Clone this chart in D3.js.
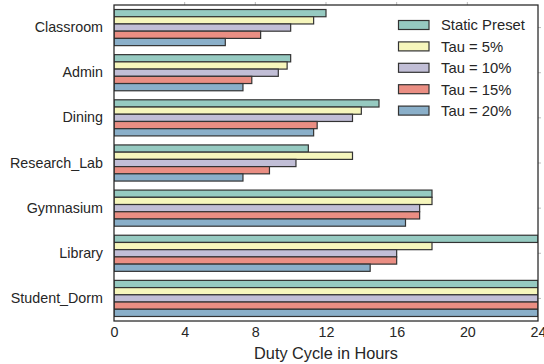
<!DOCTYPE html>
<html>
<head>
<meta charset="utf-8">
<script src="https://cdn.jsdelivr.net/npm/d3@7"></script>
<style>
  body { margin: 0; background: #fff; }
  svg { display: block; font-family: "Liberation Sans", Arial, Helvetica, sans-serif; }
</style>
</head>
<body>
<svg id="chart" width="544" height="364"></svg>
<script>
const categories = ["Classroom", "Admin", "Dining", "Research_Lab", "Gymnasium", "Library", "Student_Dorm"];
const seriesNames = ["Static Preset", "Tau = 5%", "Tau = 10%", "Tau = 15%", "Tau = 20%"];
const staticPreset = [12, 10, 15, 11, 18, 24, 24];
const tau5  = [11.3, 9.8, 14, 13.5, 18, 18, 24];
const tau10 = [10, 9.3, 13.5, 10.3, 17.3, 16, 24];
const tau15 = [8.3, 7.8, 11.5, 8.8, 17.3, 16, 24];
const tau20 = [6.3, 7.3, 11.3, 7.3, 16.5, 14.5, 24];
const xTicks = [0, 4, 8, 12, 16, 20, 24];
const colors = ["#96cac1", "#f6f6bc", "#c1bed6", "#ea8e83", "#8aafc9"];
const seriesValues = [staticPreset, tau5, tau10, tau15, tau20];

const svg = d3.select("#chart");
const L = 114, R = 538, T = 5, B = 321;
const textColor = "#262626";

const x = d3.scaleLinear().domain([0, 24]).range([L, R]);
const y = d3.scaleBand().domain(categories).range([T, B]).paddingInner(0).paddingOuter(0);
const inner = d3.scaleBand().domain(seriesNames).range([y.bandwidth() * 0.1, y.bandwidth() * 0.9]);

const data = [];
seriesNames.forEach((s, si) => {
  categories.forEach((c, ci) => data.push({ s, si, c, v: seriesValues[si][ci] }));
});

const clip = svg.append("defs").append("clipPath").attr("id", "plotclip");
clip.append("rect").attr("x", L).attr("y", T).attr("width", R - L).attr("height", B - T);

svg.append("g").attr("clip-path", "url(#plotclip)")
  .selectAll("rect").data(data).enter().append("rect")
  .attr("x", x(0))
  .attr("y", d => y(d.c) + inner(d.s))
  .attr("width", d => x(d.v) - x(0))
  .attr("height", inner.bandwidth())
  .attr("fill", d => colors[d.si])
  .attr("stroke", "#333333")
  .attr("stroke-width", 1.2);

// faint top / right ticks
svg.append("g").selectAll("line").data(xTicks.slice(1, -1)).enter().append("line")
  .attr("x1", d => x(d)).attr("x2", d => x(d)).attr("y1", T - 3).attr("y2", T)
  .attr("stroke", "#bbbbbb").attr("stroke-width", 1);
svg.append("g").selectAll("line").data(categories).enter().append("line")
  .attr("x1", R).attr("x2", R + 3)
  .attr("y1", d => y(d) + y.bandwidth() / 2).attr("y2", d => y(d) + y.bandwidth() / 2)
  .attr("stroke", "#bbbbbb").attr("stroke-width", 1);

// frame
svg.append("rect").attr("x", L).attr("y", T).attr("width", R - L).attr("height", B - T)
  .attr("fill", "none").attr("stroke", textColor).attr("stroke-width", 1.25);

// x axis
const xAxis = d3.axisBottom(x).tickValues(xTicks).tickSize(0).tickPadding(6).tickFormat(d3.format("d"));
const gx = svg.append("g").attr("transform", `translate(0,${B})`).call(xAxis);
gx.select(".domain").remove();
gx.selectAll("text").attr("fill", textColor).style("font-size", "14.3px").attr("dy", "0.72em");

// y axis
const yAxis = d3.axisLeft(y).tickSize(0).tickPadding(11);
const gy = svg.append("g").attr("transform", `translate(${L},0)`).call(yAxis);
gy.select(".domain").remove();
gy.selectAll("text").attr("fill", textColor).style("font-size", "14.3px");

// x label
svg.append("text").attr("x", (L + R) / 2).attr("y", 359).attr("text-anchor", "middle")
  .attr("fill", textColor).style("font-size", "16.3px").text("Duty Cycle in Hours");

// legend
const lg = svg.append("g");
seriesNames.forEach((s, i) => {
  const cy = 25 + i * 21.4;
  lg.append("rect").attr("x", 398.5).attr("y", cy - 4.5).attr("width", 30.5).attr("height", 9)
    .attr("fill", colors[i]).attr("stroke", "#333333").attr("stroke-width", 1.2);
  lg.append("text").attr("x", 441).attr("y", cy).attr("dy", "0.36em")
    .attr("fill", textColor).style("font-size", "14.8px").text(s);
});
</script>
</body>
</html>
